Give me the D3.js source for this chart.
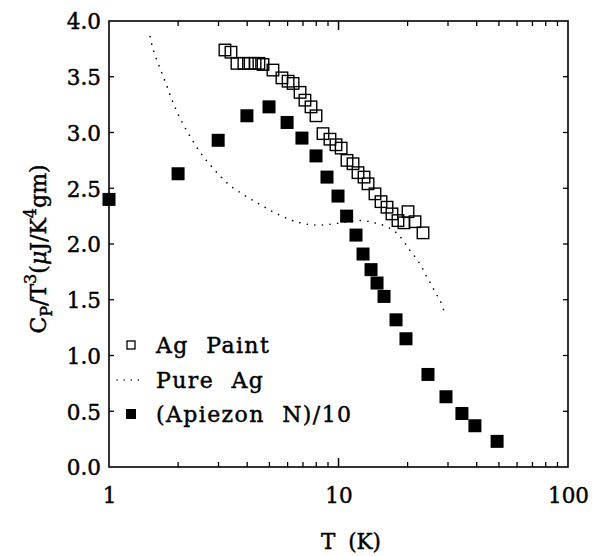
<!DOCTYPE html>
<html>
<head>
<meta charset="utf-8">
<script src="https://cdn.jsdelivr.net/npm/d3@7"></script>
<style>
  body { margin: 0; background: #fff; }
  svg text { font-family: "DejaVu Serif", "Liberation Serif", serif; fill: #000; stroke: #000; stroke-width: 0.45px; }
</style>
</head>
<body>
<svg id="chart" width="592" height="556"></svg>
<script>
// Ag Paint (open squares)
const agPaintT = [3.20, 3.40, 3.61, 3.87, 4.12, 4.33, 4.50, 4.69, 5.18, 5.67, 6.03, 6.34, 6.80, 7.14, 7.59, 7.98,
  8.56, 9.18, 9.75, 10.27, 10.89, 11.57, 12.16, 12.92, 13.45, 14.42, 15.32, 16.27, 17.10, 18.16, 19.28, 20.09, 21.55, 23.35];
const agPaintC = [3.74, 3.72, 3.62, 3.62, 3.62, 3.62, 3.62, 3.61, 3.56, 3.49, 3.46, 3.44, 3.36, 3.29, 3.23, 3.15,
  2.99, 2.94, 2.89, 2.86, 2.75, 2.72, 2.64, 2.60, 2.54, 2.45, 2.38, 2.33, 2.27, 2.21, 2.19, 2.29, 2.20, 2.10];

// Apiezon N / 10 (filled squares)
const apiezonT = [1.0, 2.0, 2.99, 3.99, 4.98, 5.97, 6.93, 7.98, 8.91, 9.95, 10.85, 11.92, 12.79, 13.86, 14.72,
  15.79, 17.81, 19.68, 24.54, 29.4, 34.5, 39.3, 49.1];
const apiezonC = [2.40, 2.63, 2.93, 3.15, 3.23, 3.09, 2.95, 2.79, 2.60, 2.43, 2.25, 2.08, 1.91, 1.77, 1.65,
  1.53, 1.32, 1.15, 0.83, 0.63, 0.48, 0.37, 0.23];

// Pure Ag (dotted curve)
const pureAgT = [1.51, 1.55, 1.65, 1.77, 1.90, 2.06, 2.28, 2.54, 2.87, 3.30, 3.87, 4.59, 5.40, 6.53, 7.90, 9.46,
  11.0, 12.79, 14.3, 15.6, 17.1, 18.3, 19.6, 20.7, 22.0, 23.1, 24.0, 25.3, 26.5, 27.8, 28.8];
const pureAgC = [3.86, 3.76, 3.60, 3.44, 3.27, 3.11, 2.95, 2.80, 2.67, 2.54, 2.44, 2.35, 2.27, 2.20, 2.17, 2.18,
  2.20, 2.21, 2.19, 2.17, 2.13, 2.08, 2.00, 1.93, 1.86, 1.79, 1.72, 1.64, 1.56, 1.49, 1.40];

const xTickLabels = [1, 10, 100];
const yTicks = [0, 0.5, 1.0, 1.5, 2.0, 2.5, 3.0, 3.5, 4.0];
const legendLabels = ["Ag Paint", "Pure Ag", "(Apiezon N)/10"];

const svg = d3.select("#chart");
const plotL = 109, plotR = 568, plotT = 21, plotB = 467;

const x = d3.scaleLog().domain([1, 100]).range([plotL, plotR]);
const y = d3.scaleLinear().domain([0, 4]).range([plotB, plotT]);

// frame
svg.append("rect")
  .attr("x", plotL).attr("y", plotT)
  .attr("width", plotR - plotL).attr("height", plotB - plotT)
  .attr("fill", "none").attr("stroke", "#000").attr("stroke-width", 1.6);

// inward ticks on x (top and bottom)
const xMinor = [];
[1, 10].forEach(d => { for (let k = 2; k <= 9; k++) xMinor.push(d * k); });
const xMajor = [10];
[[plotB, -1], [plotT, 1]].forEach(([yy, dir]) => {
  svg.selectAll(null).data(xMinor).enter().append("line")
    .attr("x1", d => x(d)).attr("x2", d => x(d))
    .attr("y1", yy).attr("y2", yy + dir * 5)
    .attr("stroke", "#000").attr("stroke-width", 1.3);
  svg.selectAll(null).data(xMajor).enter().append("line")
    .attr("x1", d => x(d)).attr("x2", d => x(d))
    .attr("y1", yy).attr("y2", yy + dir * 9)
    .attr("stroke", "#000").attr("stroke-width", 1.5);
});

// inward ticks on y (left and right)
[[plotL, 1], [plotR, -1]].forEach(([xx, dir]) => {
  svg.selectAll(null).data(yTicks.slice(1, -1)).enter().append("line")
    .attr("x1", xx).attr("x2", xx + dir * 5)
    .attr("y1", d => y(d)).attr("y2", d => y(d))
    .attr("stroke", "#000").attr("stroke-width", 1.3);
});

// tick labels via axes
const xAxis = svg.append("g")
  .attr("transform", `translate(0,${plotB})`)
  .call(d3.axisBottom(x).tickValues(xTickLabels).tickSize(0).tickPadding(21).tickFormat(d3.format("d")));
const yAxis = svg.append("g")
  .attr("transform", `translate(${plotL},0)`)
  .call(d3.axisLeft(y).tickValues(yTicks).tickSize(0).tickPadding(8).tickFormat(d3.format(".1f")));
[xAxis, yAxis].forEach(g => {
  g.select(".domain").remove();
  g.selectAll("text").attr("font-size", 21.5).attr("font-family", "DejaVu Serif");
});
yAxis.selectAll("text").attr("dy", "0.36em");

// axis titles
svg.append("text")
  .attr("x", 351).attr("y", 549)
  .attr("text-anchor", "middle").attr("font-size", 21.5)
  .attr("word-spacing", 6)
  .text("T (K)");

const yt = svg.append("text")
  .attr("transform", "translate(46,249) rotate(-90)")
  .attr("text-anchor", "middle").attr("font-size", 22);
yt.append("tspan").text("C");
yt.append("tspan").attr("font-size", 16).attr("dy", 6).text("P");
yt.append("tspan").attr("dy", -6).text("/T");
yt.append("tspan").attr("font-size", 16).attr("dy", -10).text("3");
yt.append("tspan").attr("dy", 10).text("(");
yt.append("tspan").attr("font-style", "italic").text("\u03bc");
yt.append("tspan").text("J/K");
yt.append("tspan").attr("font-size", 16).attr("dy", -10).text("4");
yt.append("tspan").attr("dy", 10).text("gm)");

// Pure Ag dotted curve
const line = d3.line()
  .x((d, i) => x(pureAgT[i]))
  .y((d, i) => y(pureAgC[i]))
  .curve(d3.curveCatmullRom);
svg.append("path")
  .datum(pureAgC)
  .attr("d", line)
  .attr("fill", "none").attr("stroke", "#000")
  .attr("stroke-width", 1.6)
  .attr("stroke-linecap", "round")
  .attr("stroke-dasharray", "0.1,7.5");

// Ag Paint open squares
const sq = 11.5;
svg.selectAll(".open").data(agPaintT).enter().append("rect")
  .attr("class", "open")
  .attr("x", (d, i) => x(d) - sq / 2)
  .attr("y", (d, i) => y(agPaintC[i]) - sq / 2)
  .attr("width", sq).attr("height", sq)
  .attr("fill", "none").attr("stroke", "#000").attr("stroke-width", 1.4);

// Apiezon filled squares
const fs = 13;
svg.selectAll(".filled").data(apiezonT).enter().append("rect")
  .attr("class", "filled")
  .attr("x", d => x(d) - fs / 2)
  .attr("y", (d, i) => y(apiezonC[i]) - fs / 2)
  .attr("width", fs).attr("height", fs)
  .attr("fill", "#000");

// legend
const legX = 131, textX = 156;
const legY = [345, 380, 414];
svg.append("rect").attr("x", legX - 4).attr("y", legY[0] - 4).attr("width", 8).attr("height", 8)
  .attr("fill", "none").attr("stroke", "#000").attr("stroke-width", 1.3);
svg.append("line").attr("x1", 117).attr("x2", 141).attr("y1", legY[1]).attr("y2", legY[1])
  .attr("stroke", "#000").attr("stroke-width", 1.4).attr("stroke-linecap", "round")
  .attr("stroke-dasharray", "0.1,7");
svg.append("rect").attr("x", legX - 5).attr("y", legY[2] - 5).attr("width", 10).attr("height", 10)
  .attr("fill", "#000");
legendLabels.forEach((t, i) => {
  svg.append("text")
    .attr("x", textX).attr("y", legY[i])
    .attr("dy", "0.36em")
    .attr("font-size", 22).attr("word-spacing", 9).attr("letter-spacing", 1.4)
    .text(t);
});
</script>
</body>
</html>
